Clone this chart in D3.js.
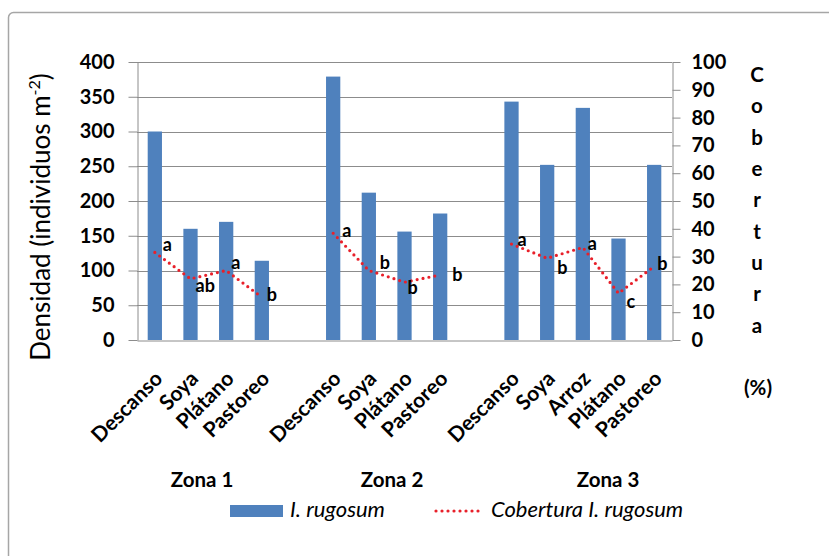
<!DOCTYPE html>
<html>
<head>
<meta charset="utf-8">
<script src="https://cdn.jsdelivr.net/npm/d3@7"></script>
<style>
  html, body { margin: 0; padding: 0; background: #fff; }
  svg { display: block; font-family: Lato, "Open Sans", sans-serif; }
</style>
</head>
<body>
<svg id="chart" width="829" height="556"></svg>
<script>
// ---- data ----
const zones = ["Zona 1", "Zona 2", "Zona 3"];
const categories = ["Descanso", "Soya", "Plátano", "Pastoreo", "",
                    "Descanso", "Soya", "Plátano", "Pastoreo", "",
                    "Descanso", "Soya", "Arroz", "Plátano", "Pastoreo"];
const zoneIndex = [0, 0, 0, 0, -1, 1, 1, 1, 1, -1, 2, 2, 2, 2, 2];
const densidad = [300, 160, 170, 114, null, 379, 212, 156, 182, null, 343, 252, 334, 146, 252];
const cobertura = [31.5, 22, 25, 15.4, null, 38.4, 25, 20.8, 23.4, null, 34.5, 29.4, 33.3, 16.8, 26.5];
const letras = ["a", "ab", "a", "b", null, "a", "b", "b", "b", null, "a", "b", "a", "c", "b"];
const leftTicks = [0, 50, 100, 150, 200, 250, 300, 350, 400];
const rightTicks = [0, 10, 20, 30, 40, 50, 60, 70, 80, 90, 100];
const rightTitle = ["C", "o", "b", "e", "r", "t", "u", "r", "a"];
const legendLabels = ["I. rugosum", "Cobertura I. rugosum"];

// ---- layout / style ----
const plot = { left: 137, right: 672, top: 62, bottom: 340 };
const barColor = "#4f81bd";
const lineColor = "#e8202a";
const gridColor = "#8c8c8c";
// label offsets (px) for letters relative to their point
const letterOffsets = [[8, -8], [5, 7], [5, -8], [5, -2], null,
                       [9, -3], [11, -8], [3, 6], [12, 0], null,
                       [6, -4], [10, 9], [5, -4], [8, 8], [3, -3]];
const zoneLabelX = [202, 392, 608];

const svg = d3.select("#chart");

// outer border
svg.append("rect")
  .attr("x", 8.5).attr("y", 12.5).attr("width", 840).attr("height", 570)
  .attr("rx", 5).attr("fill", "#fff").attr("stroke", "#a6a6a6").attr("stroke-width", 1.5);

const x = d3.scaleBand()
  .domain(d3.range(categories.length))
  .range([plot.left, plot.right])
  .paddingInner(0.6).paddingOuter(0.3);
const yL = d3.scaleLinear().domain([0, 400]).range([plot.bottom, plot.top]);
const yR = d3.scaleLinear().domain([0, 100]).range([plot.bottom, plot.top]);
const cx = i => x(i) + x.bandwidth() / 2;

// gridlines
svg.append("g").selectAll("line")
  .data(leftTicks.filter(t => t > 0))
  .join("line")
  .attr("x1", plot.left).attr("x2", plot.right)
  .attr("y1", d => Math.round(yL(d)) + 0.5).attr("y2", d => Math.round(yL(d)) + 0.5)
  .attr("stroke", gridColor).attr("stroke-width", 1);

// left axis
const gL = svg.append("g").attr("transform", `translate(${plot.left + 0.5},0)`)
  .call(d3.axisLeft(yL).tickValues(leftTicks).tickSizeInner(9).tickSizeOuter(0).tickPadding(14));
gL.selectAll("path, line").attr("stroke", gridColor);
gL.selectAll("text").attr("font-size", 20).attr("font-weight", "bold").attr("fill", "#000")
  .attr("font-family", "Lato, sans-serif");

// right axis
const gR = svg.append("g").attr("transform", `translate(${plot.right + 0.5},0)`)
  .call(d3.axisRight(yR).tickValues(rightTicks).tickSizeInner(8).tickSizeOuter(0).tickPadding(11));
gR.selectAll("path, line").attr("stroke", gridColor);
gR.selectAll("text").attr("font-size", 20).attr("font-weight", "bold").attr("fill", "#000")
  .attr("font-family", "Lato, sans-serif");

// bars
svg.append("g").selectAll("rect")
  .data(densidad.map((v, i) => ({ v, i })).filter(d => d.v != null))
  .join("rect")
  .attr("x", d => x(d.i)).attr("width", x.bandwidth())
  .attr("y", d => yL(d.v)).attr("height", d => yL(0) - yL(d.v))
  .attr("fill", barColor);

// bottom axis
const gB = svg.append("g").attr("transform", `translate(0,${plot.bottom + 0.5})`)
  .call(d3.axisBottom(x).tickSize(0).tickFormat(""));
gB.select("path").attr("stroke", gridColor);

// category labels
svg.append("g").selectAll("text")
  .data(categories.map((c, i) => ({ c, i })).filter(d => d.c))
  .join("text")
  .attr("transform", d => `translate(${cx(d.i) + 9},${plot.bottom + 40}) rotate(-45)`)
  .attr("text-anchor", "end")
  .attr("font-size", 21).attr("font-weight", "bold")
  .text(d => d.c);

// zone labels
svg.append("g").selectAll("text")
  .data(zones)
  .join("text")
  .attr("x", (d, i) => zoneLabelX[i]).attr("y", 487)
  .attr("text-anchor", "middle").attr("font-size", 20.5).attr("font-weight", "bold")
  .text(d => d);

// cobertura lines (one per zone)
const line = d3.line().x(d => cx(d.i)).y(d => yR(d.v));
zones.forEach((z, zi) => {
  const pts = cobertura.map((v, i) => ({ v, i })).filter(d => zoneIndex[d.i] === zi);
  svg.append("path").datum(pts)
    .attr("d", line).attr("fill", "none")
    .attr("stroke", lineColor).attr("stroke-width", 3.2)
    .attr("stroke-linecap", "round").attr("stroke-dasharray", "0 6");
});

// letters
svg.append("g").selectAll("text")
  .data(letras.map((l, i) => ({ l, i })).filter(d => d.l))
  .join("text")
  .attr("x", d => cx(d.i) + letterOffsets[d.i][0])
  .attr("y", d => yR(cobertura[d.i]) + letterOffsets[d.i][1])
  .attr("dy", "0.35em")
  .attr("font-size", 18).attr("font-weight", "bold")
  .text(d => d.l);

// left axis title
const lt = svg.append("text")
  .attr("transform", `translate(50,${(plot.top + plot.bottom) / 2 + 16}) rotate(-90)`)
  .attr("text-anchor", "middle").attr("font-size", 26);
lt.append("tspan").text("Densidad (individuos m");
lt.append("tspan").attr("dy", -10).attr("font-size", 16).text("-2");
lt.append("tspan").attr("dy", 10).text(")");

// right axis title (stacked letters)
svg.append("g").selectAll("text")
  .data(rightTitle)
  .join("text")
  .attr("x", 757).attr("y", (d, i) => 75 + i * 31.3)
  .attr("dy", "0.35em").attr("text-anchor", "middle")
  .attr("font-size", 20.5).attr("font-weight", "bold")
  .text(d => d);
svg.append("text").attr("x", 758).attr("y", 395)
  .attr("text-anchor", "middle").attr("font-size", 20.5).attr("font-weight", "bold")
  .text("(%)");

// legend
const lg = svg.append("g");
lg.append("rect").attr("x", 230).attr("y", 505).attr("width", 53).attr("height", 12).attr("fill", barColor);
lg.append("text").attr("x", 290).attr("y", 517).attr("font-size", 22).attr("font-style", "italic")
  .text(legendLabels[0]);
lg.append("line").attr("x1", 436).attr("x2", 484).attr("y1", 511).attr("y2", 511)
  .attr("stroke", lineColor).attr("stroke-width", 3.2)
  .attr("stroke-linecap", "round").attr("stroke-dasharray", "0 6");
lg.append("text").attr("x", 491).attr("y", 517).attr("font-size", 22).attr("font-style", "italic")
  .text(legendLabels[1]);
</script>
</body>
</html>
